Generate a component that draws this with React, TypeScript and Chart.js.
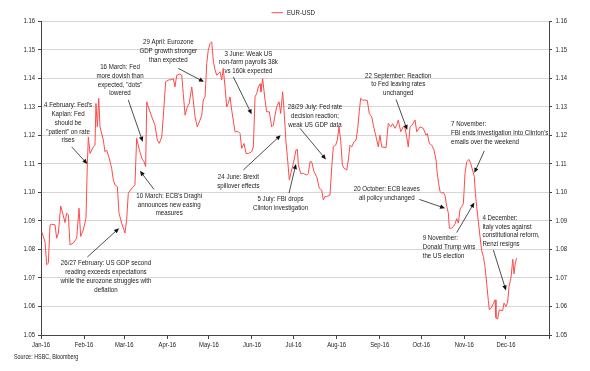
import React, { useEffect, useRef } from "react";
import { Chart, registerables } from "chart.js";

Chart.register(...registerables);

// Day of year (2016) of each reading
const days = [
  0.5, 2.9, 4.1, 5.3, 6.5, 7.7, 10.1, 11.3, 12.5, 14.2, 15.6, 17.3, 18.5, 19.7, 20.9, 23.3, 25.7, 27.4, 28.6, 30.5,
  32.4, 33.4, 34.1, 35.3, 37.7, 38.9, 39.6, 40.6, 41.6, 42.5, 44.9, 46.1, 47.3, 49.2, 50.9, 52.1, 53.3, 55.0, 56.2, 58.1,
  60.5, 61.7, 62.9, 65.3, 67.7, 68.9, 70.6, 72.6, 74.2, 75.4, 76.2, 78.1, 79.8, 82.1, 83.8, 85.2, 87.0, 88.1, 89.8, 91.7,
  94.2, 95.3, 96.5, 97.8, 100.1, 101.4, 102.5, 103.8, 105.4, 106.8, 108.6, 109.7, 111.0, 112.6, 114.6, 115.8, 116.9, 118.2, 119.4, 120.5,
  121.8, 123.0, 124.1, 125.4, 126.6, 129.0, 130.2, 131.3, 132.6, 133.8, 134.9, 136.2, 137.4, 139.8, 142.2, 143.4, 144.6, 146.3, 147.7, 149.4,
  151.8, 153.0, 154.2, 155.4, 156.6, 157.8, 158.5, 159.7, 161.4, 162.6, 164.5, 166.2, 167.4, 168.6, 169.8, 171.5, 172.7, 174.1, 175.1, 176.5,
  177.5, 178.9, 180.6, 181.8, 183.7, 184.7, 185.4, 187.1, 189.0, 191.4, 192.6, 193.8, 195.0, 196.7, 198.6, 200.5, 202.2, 203.4, 204.6, 205.8,
  208.2, 209.5, 210.6, 212.3, 213.5, 214.7, 215.9, 217.1, 218.3, 220.3, 221.4, 222.6, 223.9, 225.5, 227.0, 228.2, 229.3, 230.3, 231.8, 233.4,
  235.1, 236.5, 238.3, 239.4, 241.4, 243.0, 244.2, 245.5, 248.6, 250.2, 252.0, 253.4, 255.1, 256.7, 257.4, 259.2, 261.0, 262.3, 263.5, 264.6,
  265.9, 267.3, 269.5, 270.7, 273.1, 275.4, 277.4, 278.3, 279.8, 281.5, 283.2, 284.6, 285.5, 286.5, 287.5, 288.7, 289.9, 291.1, 292.3, 293.5,
  294.2, 295.9, 297.1, 298.3, 299.5, 300.7, 301.9, 303.1, 304.3, 305.5, 306.7, 308.4, 309.6, 310.9, 312.2, 312.9, 313.9, 315.1, 316.3, 317.5,
  318.7, 319.9, 321.1, 322.3, 323.0, 324.2, 325.9, 327.1, 327.8, 329.0, 330.2, 332.6, 333.6, 335.0, 336.2, 337.2, 338.6, 339.9, 340.8, 341.7,
  342.7,
];

const eurUsd = [
  1.0862, 1.0827, 1.0746, 1.0752, 1.0886, 1.0888, 1.0886, 1.0839, 1.0857, 1.0952, 1.0927, 1.0894, 1.0927, 1.0921, 1.0816, 1.0822, 1.0839, 1.0944, 1.0845, 1.0868,
  1.0909, 1.1101, 1.1194, 1.1136, 1.1159, 1.1165, 1.1311, 1.1229, 1.1329, 1.1229, 1.1183, 1.1142, 1.1148, 1.1119, 1.1084, 1.1043, 1.1026, 1.1020, 1.0927, 1.0892,
  1.0857, 1.0903, 1.0997, 1.1014, 1.1026, 1.1189, 1.1154, 1.1119, 1.1107, 1.1090, 1.1317, 1.1288, 1.1264, 1.1235, 1.1183, 1.1171, 1.1194, 1.1264, 1.1387, 1.1393,
  1.1395, 1.1398, 1.1369, 1.1410, 1.1414, 1.1410, 1.1346, 1.1270, 1.1299, 1.1311, 1.1369, 1.1323, 1.1264, 1.1229, 1.1253, 1.1270, 1.1323, 1.1334, 1.1451, 1.1498,
  1.1521, 1.1527, 1.1463, 1.1428, 1.1410, 1.1422, 1.1393, 1.1434, 1.1369, 1.1299, 1.1311, 1.1334, 1.1288, 1.1212, 1.1212, 1.1206, 1.1154, 1.1171, 1.1136, 1.1136,
  1.1142, 1.1159, 1.1334, 1.1346, 1.1369, 1.1380, 1.1352, 1.1398, 1.1323, 1.1282, 1.1282, 1.1229, 1.1235, 1.1270, 1.1299, 1.1317, 1.1276, 1.1352, 1.1288, 1.1177,
  1.1125, 1.1043, 1.1078, 1.1101, 1.1148, 1.1150, 1.1096, 1.1066, 1.1066, 1.1060, 1.1066, 1.1107, 1.1107, 1.1072, 1.1055, 1.1014, 1.1008, 1.0973, 1.0985, 1.0985,
  1.0990, 1.1090, 1.1159, 1.1165, 1.1183, 1.1229, 1.1183, 1.1096, 1.1084, 1.1078, 1.1113, 1.1165, 1.1159, 1.1177, 1.1183, 1.1224, 1.1282, 1.1329, 1.1323, 1.1323,
  1.1321, 1.1276, 1.1264, 1.1235, 1.1194, 1.1159, 1.1200, 1.1159, 1.1156, 1.1241, 1.1230, 1.1240, 1.1224, 1.1240, 1.1253, 1.1212, 1.1230, 1.1224, 1.1194, 1.1159,
  1.1229, 1.1235, 1.1253, 1.1212, 1.1229, 1.1224, 1.1200, 1.1206, 1.1171, 1.1165, 1.1148, 1.1113, 1.1066, 1.1031, 1.1002, 1.0997, 1.1000, 1.0988, 1.0950, 1.0927,
  1.0874, 1.0874, 1.0880, 1.0889, 1.0908, 1.0892, 1.0941, 1.0950, 1.0960, 1.1066, 1.1107, 1.1115, 1.1101, 1.1078, 1.1055, 1.1000, 1.0950, 1.0897, 1.0845, 1.0795,
  1.0775, 1.0740, 1.0680, 1.0620, 1.0588, 1.0594, 1.0610, 1.0623, 1.0560, 1.0556, 1.0588, 1.0585, 1.0612, 1.0600, 1.0615, 1.0670, 1.0700, 1.0765, 1.0714, 1.0752,
  1.0769,
];

const monthStarts = [0, 31, 60, 91, 121, 152, 182, 213, 244, 274, 305, 335, 366];
const monthLabels = ["Jan-16", "Feb-16", "Mar-16", "Apr-16", "May-16", "Jun-16", "Jul-16", "Aug-16", "Sep-16", "Oct-16", "Nov-16", "Dec-16", ""];
const yTicks = [1.05, 1.06, 1.07, 1.08, 1.09, 1.1, 1.11, 1.12, 1.13, 1.14, 1.15, 1.16];

const seriesName = "EUR-USD";
const sourceText = "Source: HSBC, Bloomberg";

type Note = {
  lines: string[];
  at: [number, number];
  align: "center" | "left";
  from: [number, number];
  to: [number, number];
};

const notes: Note[] = [
  { lines: ["4 February: Fed's", "Kaplan: Fed", "should be", "\"patient\" on rate", "rises"], at: [19.5, 1.1305], align: "center", from: [22.1, 1.1159], to: [33.4, 1.1099] },
  { lines: ["16 March: Fed", "more dovish than", "expected, \"dots\"", "lowered"], at: [56.9, 1.1439], align: "center", from: [62.9, 1.1323], to: [73.3, 1.1177] },
  { lines: ["29 April: Eurozone", "GDP growth stronger", "than expected"], at: [91.7, 1.1527], align: "center", from: [98.9, 1.1434], to: [117.4, 1.1387] },
  { lines: ["3 June: Weak US", "non-farm payrolls 38k", "vs 160k expected"], at: [149.4, 1.1486], align: "center", from: [138.6, 1.1404], to: [151.8, 1.1273] },
  { lines: ["24 June: Brexit", "spillover effects"], at: [142.2, 1.1053], align: "center", from: [145.8, 1.1078], to: [172.7, 1.12] },
  { lines: ["28/29 July: Fed rate", "decision reaction;", "weak US GDP data"], at: [197.4, 1.1299], align: "center", from: [186.6, 1.1224], to: [205.3, 1.1115] },
  { lines: ["5 July: FBI drops", "Clinton investigation"], at: [172.6, 1.0977], align: "center", from: [178.7, 1.0997], to: [183.7, 1.1099] },
  { lines: ["10 March: ECB's Draghi", "announces new easing", "measures"], at: [92.4, 1.0988], align: "center", from: [81.4, 1.101], to: [71.3, 1.1075] },
  { lines: ["26/27 February: US GDP second", "reading exceeds expectations", "while the eurozone struggles with", "deflation"], at: [46.8, 1.0752], align: "center", from: [33.4, 1.0773], to: [56.2, 1.0874] },
  { lines: ["22 September: Reaction", "to Fed leaving rates", "unchanged"], at: [257.4, 1.1409], align: "center", from: [255.8, 1.1325], to: [263.9, 1.1218] },
  { lines: ["7 November:", "FBI ends investigation into Clinton's", "emails over the weekend"], at: [295.4, 1.1239], align: "left", from: [319.4, 1.1145], to: [312.2, 1.1068] },
  { lines: ["20 October: ECB leaves", "all policy unchanged"], at: [249.1, 1.1011], align: "center", from: [272.6, 1.0975], to: [291.1, 1.0944] },
  { lines: ["9 November:", "Donald Trump wins", "the US election"], at: [275.0, 1.0839], align: "left", from: [299.5, 1.0859], to: [312.2, 1.0964] },
  { lines: ["4 December:", "Italy votes against", "constitutional reform,", "Renzi resigns"], at: [318.0, 1.0911], align: "left", from: [325.9, 1.0798], to: [335.0, 1.0656] },
];

const FONT = '"Liberation Sans", Arial, sans-serif';
const SQUEEZE = 0.82;
const LINE_COLOR = "#ff4a4a";
const TEXT_COLOR = "#222222";

function drawText(
  ctx: CanvasRenderingContext2D,
  text: string,
  x: number,
  y: number,
  align: CanvasTextAlign,
  size: number
) {
  ctx.save();
  ctx.translate(x, y);
  ctx.scale(SQUEEZE, 1);
  ctx.font = `${size}px ${FONT}`;
  ctx.fillStyle = TEXT_COLOR;
  ctx.textAlign = align;
  ctx.textBaseline = "middle";
  ctx.fillText(text, 0, 0);
  ctx.restore();
}

function drawArrow(ctx: CanvasRenderingContext2D, x1: number, y1: number, x2: number, y2: number) {
  const ang = Math.atan2(y2 - y1, x2 - x1);
  const len = 5;
  const hw = 2.2;
  ctx.save();
  ctx.strokeStyle = "#222";
  ctx.fillStyle = "#111";
  ctx.lineWidth = 0.8;
  ctx.beginPath();
  ctx.moveTo(x1, y1);
  ctx.lineTo(x2 - Math.cos(ang) * len * 0.8, y2 - Math.sin(ang) * len * 0.8);
  ctx.stroke();
  ctx.beginPath();
  ctx.moveTo(x2, y2);
  ctx.lineTo(x2 - Math.cos(ang) * len + Math.sin(ang) * hw, y2 - Math.sin(ang) * len - Math.cos(ang) * hw);
  ctx.lineTo(x2 - Math.cos(ang) * len - Math.sin(ang) * hw, y2 - Math.sin(ang) * len + Math.cos(ang) * hw);
  ctx.closePath();
  ctx.fill();
  ctx.restore();
}

const textPlugin = {
  id: "customText",
  afterDraw(chart: any) {
    const ctx: CanvasRenderingContext2D = chart.ctx;
    const x = chart.scales.x;
    const y = chart.scales.y;
    const area = chart.chartArea;

    // y tick labels, both sides
    yTicks.forEach((v) => {
      const py = y.getPixelForValue(v);
      drawText(ctx, v.toFixed(2), area.left - 6, py, "right", 7.2);
      drawText(ctx, v.toFixed(2), area.right + 6.5, py, "left", 7.2);
    });
    // x tick labels
    monthStarts.forEach((d, i) => {
      if (!monthLabels[i]) return;
      drawText(ctx, monthLabels[i], x.getPixelForValue(d), area.bottom + 10, "center", 7.2);
    });

    // legend
    const cx = (area.left + area.right) / 2 - 1.5;
    const legY = 12.7;
    ctx.save();
    ctx.strokeStyle = LINE_COLOR;
    ctx.lineWidth = 1;
    ctx.beginPath();
    ctx.moveTo(cx - 22, legY);
    ctx.lineTo(cx - 10.5, legY);
    ctx.stroke();
    ctx.restore();
    drawText(ctx, seriesName, cx - 6.5, legY, "left", 7.5);

    // source
    drawText(ctx, sourceText, 14, area.bottom + 22, "left", 6.6);

    // annotations
    const lh = 8.8;
    notes.forEach((n) => {
      const ax = x.getPixelForValue(n.at[0]);
      const ay = y.getPixelForValue(n.at[1]);
      n.lines.forEach((line, i) => {
        drawText(ctx, line, ax, ay + i * lh, n.align, 7.5);
      });
      drawArrow(
        ctx,
        x.getPixelForValue(n.from[0]),
        y.getPixelForValue(n.from[1]),
        x.getPixelForValue(n.to[0]),
        y.getPixelForValue(n.to[1])
      );
    });
  },
};

export default function App() {
  const ref = useRef<HTMLCanvasElement | null>(null);

  useEffect(() => {
    if (!ref.current) return;
    const points = days.map((d, i) => ({ x: d, y: eurUsd[i] }));
    const chart = new Chart(ref.current, {
      type: "line",
      data: {
        datasets: [
          {
            label: seriesName,
            data: points,
            borderColor: LINE_COLOR,
            backgroundColor: LINE_COLOR,
            borderWidth: 1,
            pointRadius: 0,
            tension: 0,
            yAxisID: "y",
          },
        ],
      },
      options: {
        animation: false,
        responsive: false,
        devicePixelRatio: 1,
        layout: { padding: { top: 21, left: 0, right: 0, bottom: 0 } },
        plugins: {
          legend: { display: false },
          tooltip: { enabled: false },
        },
        scales: {
          x: {
            type: "linear",
            min: 0,
            max: 366,
            afterBuildTicks: (s: any) => {
              s.ticks = monthStarts.map((v) => ({ value: v }));
            },
            afterFit: (s: any) => {
              s.height = 36;
            },
            ticks: { display: false },
            grid: {
              drawOnChartArea: false,
              drawTicks: true,
              tickLength: 4,
              color: "#444",
              tickColor: "#444",
            },
            border: { display: true, color: "#444", width: 1 },
          },
          y: {
            type: "linear",
            position: "left",
            min: 1.05,
            max: 1.16,
            afterBuildTicks: (s: any) => {
              s.ticks = yTicks.map((v) => ({ value: v }));
            },
            afterFit: (s: any) => {
              s.width = 41;
            },
            ticks: { display: false },
            grid: {
              drawOnChartArea: true,
              drawTicks: true,
              tickLength: 3,
              color: "#d6d6d6",
              tickColor: "#444",
              lineWidth: 1,
            },
            border: { display: true, color: "#444", width: 1 },
          },
          y2: {
            type: "linear",
            position: "right",
            display: true,
            min: 1.05,
            max: 1.16,
            afterBuildTicks: (s: any) => {
              s.ticks = yTicks.map((v) => ({ value: v }));
            },
            afterFit: (s: any) => {
              s.width = 41;
            },
            ticks: { display: false },
            grid: {
              drawOnChartArea: false,
              drawTicks: true,
              tickLength: 3,
              color: "#444",
              tickColor: "#444",
            },
            border: { display: true, color: "#444", width: 1 },
          },
        },
      },
      plugins: [textPlugin],
    });
    return () => chart.destroy();
  }, []);

  return (
    <div style={{ position: "absolute", left: 0, top: 0, width: 590, height: 371, background: "#fff" }}>
      <canvas ref={ref} width={590} height={371} style={{ width: 590, height: 371, display: "block" }} />
    </div>
  );
}
